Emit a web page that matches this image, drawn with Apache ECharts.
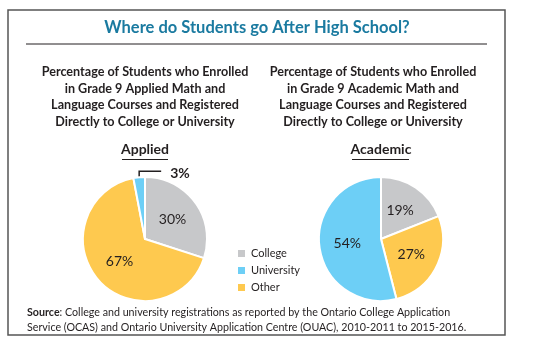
<!DOCTYPE html>
<html>
<head>
<meta charset="utf-8">
<script src="https://cdn.jsdelivr.net/npm/echarts@6/dist/echarts.min.js"></script>
<style>
  html, body { margin: 0; padding: 0; background: #fff; }
  #chart { width: 536px; height: 353px; }
</style>
</head>
<body>
<div id="chart"></div>
<script>
// categories in legend order
const categories = ['College', 'University', 'Other']
// slice order clockwise from 12 o'clock
const sliceOrder = ['College', 'Other', 'University']
const appliedValues = [30, 67, 3]
const academicValues = [19, 27, 54]
const colors = { College: '#c7c8ca', University: '#6dcff6', Other: '#fec94f' }

const chart = echarts.init(document.getElementById('chart'))
const font = 'Lato'

function pieData(values) {
  return sliceOrder.map((name, i) => ({ name: name, value: values[i], itemStyle: { color: colors[name] } }))
}

function pieSeries(name, center, values) {
  return {
    name: name,
    type: 'pie',
    center: center,
    radius: 62,
    startAngle: 90,
    clockwise: true,
    data: pieData(values),
    itemStyle: { borderColor: '#fff', borderWidth: 2 },
    label: {
      position: 'inside',
      formatter: '{c}%',
      color: '#231f20',
      fontFamily: font,
      fontSize: 14
    },
    emphasis: { disabled: true },
    animation: false
  }
}

const subtitleLeft = 'Percentage of Students who Enrolled\nin Grade 9 Applied Math and\nLanguage Courses and Registered\nDirectly to College or University'
const subtitleRight = 'Percentage of Students who Enrolled\nin Grade 9 Academic Math and\nLanguage Courses and Registered\nDirectly to College or University'

const applied = pieSeries('Applied', [145, 239], appliedValues)
// small slice gets an outside label with a leader line bent to the right
applied.data[2].label = { position: 'outside', fontWeight: 'bold', fontSize: 14, color: '#231f20' }
applied.data[2].labelLine = { show: true, length: 6, length2: 20, lineStyle: { color: '#231f20', width: 1.5 } }
applied.labelLayout = function (p) {
  if (p.dataIndex !== 2 || !p.labelLinePoints) return {}
  const start = p.labelLinePoints[0]
  const bendY = start[1] - 6
  return {
    x: start[0] + 31,
    y: bendY + 2,
    align: 'left',
    verticalAlign: 'middle',
    labelLinePoints: [start, [start[0], bendY], [start[0] + 22, bendY]]
  }
}

const subStyle = { color: '#231f20', fontFamily: font, fontSize: 12.6, fontWeight: 'bold', lineHeight: 16.5, align: 'center' }

const option = {
  animation: false,
  title: [
    {
      text: 'Where do Students go After High School?',
      left: 257, top: 19, textAlign: 'center', padding: 0,
      textStyle: { color: '#1a7aa0', fontFamily: font, fontSize: 16.5, fontWeight: 'bold' }
    },
    { text: subtitleLeft, left: 145, top: 64, textAlign: 'center', padding: 0, textStyle: subStyle },
    { text: subtitleRight, left: 373, top: 64, textAlign: 'center', padding: 0, textStyle: subStyle },
    {
      text: 'Applied',
      left: 145, top: 142, textAlign: 'center', padding: 0,
      textStyle: { color: '#231f20', fontFamily: font, fontSize: 14, fontWeight: 'bold' }
    },
    {
      text: 'Academic',
      left: 381, top: 142, textAlign: 'center', padding: 0,
      textStyle: { color: '#231f20', fontFamily: font, fontSize: 14, fontWeight: 'bold' }
    },
    {
      text: '{b|Source}: College and university registrations as reported by the Ontario College Application\nService (OCAS) and Ontario University Application Centre (OUAC), 2010-2011 to 2015-2016.',
      left: 27, top: 305, padding: 0,
      textStyle: {
        color: '#231f20', fontFamily: font, fontSize: 10.7, fontWeight: 'normal', lineHeight: 15,
        rich: { b: { fontWeight: 'bold', fontFamily: font, fontSize: 10.7, color: '#231f20', lineHeight: 15 } }
      }
    }
  ],
  legend: {
    data: categories,
    orient: 'vertical',
    left: 236, top: 248, padding: 0,
    itemWidth: 9, itemHeight: 9, itemGap: 6,
    icon: 'rect',
    selectedMode: false,
    textStyle: { color: '#231f20', fontFamily: font, fontSize: 11 }
  },
  graphic: [
    { type: 'rect', shape: { x: 8, y: 10, width: 497, height: 325 }, style: { fill: 'none', stroke: '#555', lineWidth: 1.5 } },
    { type: 'line', shape: { x1: 26, y1: 44, x2: 487, y2: 44 }, style: { stroke: '#231f20', lineWidth: 1 } },
    { type: 'line', shape: { x1: 122, y1: 159.5, x2: 168, y2: 159.5 }, style: { stroke: '#231f20', lineWidth: 1 } },
    { type: 'line', shape: { x1: 352, y1: 159.5, x2: 409, y2: 159.5 }, style: { stroke: '#231f20', lineWidth: 1 } }
  ],
  series: [
    applied,
    pieSeries('Academic', [381, 239], academicValues)
  ]
}

chart.setOption(option)
</script>
</body>
</html>
